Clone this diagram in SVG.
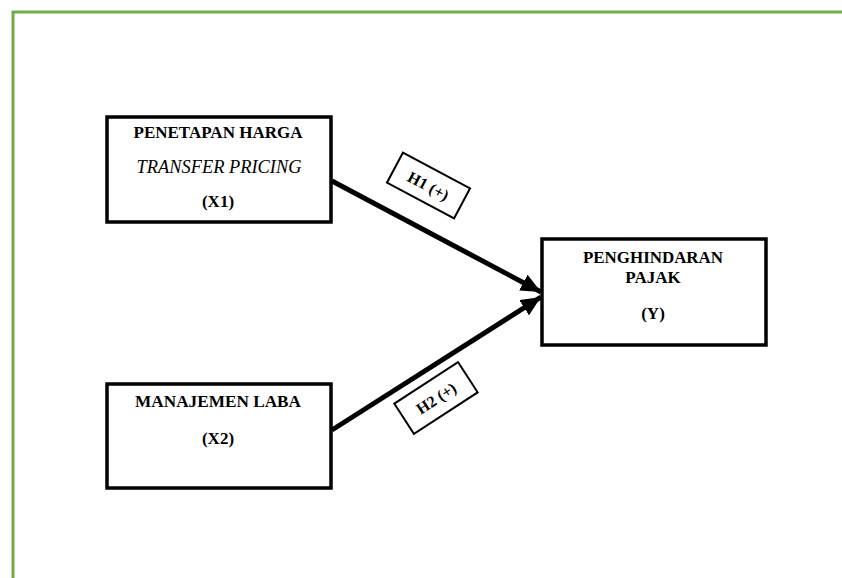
<svg xmlns="http://www.w3.org/2000/svg" width="842" height="578" viewBox="0 0 842 578">
<style>
.box{fill:#fff;stroke:#000;stroke-width:3.5}
.t{font-family:"Liberation Serif","Times New Roman",serif;font-size:17px;font-weight:bold;fill:#000;text-anchor:middle}
.i{font-weight:normal;font-style:italic;font-size:18px}
.lbl{fill:#fff;stroke:#000;stroke-width:2}
.lt{font-family:"Liberation Serif","Times New Roman",serif;font-size:16px;font-weight:bold;fill:#000;text-anchor:middle}
.conn{stroke:#000;stroke-width:5;fill:none;marker-end:url(#ah)}
</style>
<defs>
<marker id="ah" markerUnits="userSpaceOnUse" markerWidth="22" markerHeight="18" refX="20" refY="9" orient="auto">
<path d="M0,0 L20,9 L0,18 Z" fill="#000"/>
</marker>
</defs>
<rect width="842" height="578" fill="#fff"/>
<g id="frame">
<path d="M13,578 L13,12 L842,12" fill="none" stroke="#70AD47" stroke-width="3"/>
</g>
<g id="connectors">
<line class="conn" x1="332" y1="181" x2="541" y2="292"/>
<line class="conn" x1="332" y1="430" x2="541" y2="297"/>
</g>
<g id="x1">
<rect class="box" x="107" y="117" width="224" height="105"/>
<text class="t" x="218" y="138" textLength="169" lengthAdjust="spacingAndGlyphs">PENETAPAN HARGA</text>
<text class="t i" x="219" y="173" textLength="165" lengthAdjust="spacingAndGlyphs">TRANSFER PRICING</text>
<text class="t" x="218" y="207">(X1)</text>
</g>
<g id="x2">
<rect class="box" x="107" y="384" width="224" height="104"/>
<text class="t" x="218" y="407" textLength="166" lengthAdjust="spacingAndGlyphs">MANAJEMEN LABA</text>
<text class="t" x="218" y="444">(X2)</text>
</g>
<g id="y">
<rect class="box" x="542" y="239" width="224" height="106"/>
<text class="t" x="653" y="263" textLength="140" lengthAdjust="spacingAndGlyphs">PENGHINDARAN</text>
<text class="t" x="653" y="283">PAJAK</text>
<text class="t" x="653" y="319">(Y)</text>
</g>
<g id="h1" transform="translate(428.5,185.5) rotate(28)">
<rect class="lbl" x="-38" y="-17" width="76" height="34"/>
<text class="lt" x="0" y="6">H1 (+)</text>
</g>
<g id="h2" transform="translate(436,398) rotate(-33)">
<rect class="lbl" x="-38" y="-18" width="76" height="36"/>
<text class="lt" x="0" y="6">H2 (+)</text>
</g>
</svg>
